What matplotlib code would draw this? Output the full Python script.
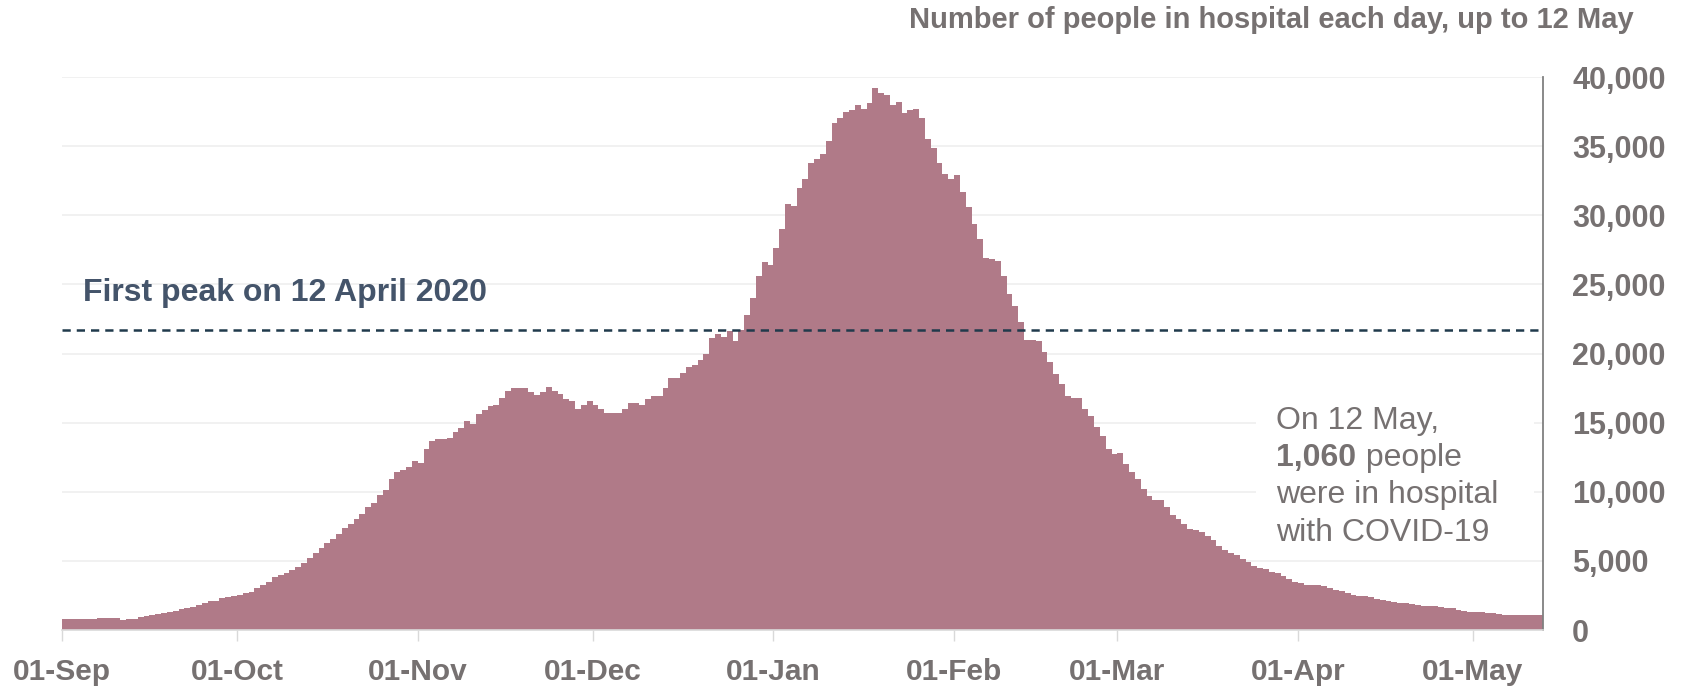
import numpy as np
import pandas as pd
import matplotlib
matplotlib.use("Agg")
import matplotlib.pyplot as plt
from matplotlib.patches import Rectangle


START_DATE = "2020-09-01"
END_DATE = "2021-05-12"

# people in hospital with COVID-19, thousands, one value per day
PATIENTS_K = [
    0.82, 0.80, 0.80, 0.79, 0.80, 0.81, 0.88, 0.89, 0.89, 0.88,
    0.72, 0.76, 0.80, 0.97, 1.02, 1.09, 1.16, 1.23, 1.30, 1.40,
    1.52, 1.59, 1.69, 1.81, 1.98, 2.10, 2.13, 2.29, 2.37, 2.46,
    2.54, 2.66, 2.78, 3.02, 3.26, 3.50, 3.86, 3.99, 4.15, 4.35,
    4.59, 4.88, 5.19, 5.56, 5.92, 6.28, 6.57, 6.96, 7.37, 7.70,
    8.00, 8.40, 8.90, 9.20, 9.80, 10.1, 10.9, 11.4, 11.6, 11.8,
    12.2, 12.1, 13.1, 13.7, 13.8, 13.8, 13.9, 14.3, 14.6, 15.1,
    14.9, 15.6, 15.9, 16.2, 16.3, 16.8, 17.3, 17.5, 17.5, 17.5,
    17.2, 17.0, 17.2, 17.6, 17.3, 17.1, 16.7, 16.6, 16.0, 16.3,
    16.6, 16.3, 16.0, 15.7, 15.7, 15.7, 16.0, 16.4, 16.4, 16.3,
    16.7, 16.9, 16.9, 17.5, 18.2, 18.2, 18.6, 19.0, 19.2, 19.5,
    20.0, 21.1, 21.4, 21.2, 21.6, 20.9, 21.7, 22.8, 24.0, 25.6,
    26.6, 26.4, 27.6, 29.0, 30.8, 30.7, 32.0, 32.6, 33.8, 34.1,
    34.4, 35.4, 36.7, 37.0, 37.45, 37.6, 38.0, 37.7, 38.1, 39.2,
    38.86, 38.7, 38.0, 38.2, 37.4, 37.6, 37.7, 37.0, 35.5, 34.9,
    33.8, 33.0, 32.6, 32.9, 31.7, 30.6, 29.4, 28.3, 26.9, 26.8,
    26.7, 25.6, 24.3, 23.4, 22.3, 21.0, 21.0, 20.9, 20.1, 19.4,
    18.5, 17.8, 16.9, 16.8, 16.8, 16.0, 15.5, 14.7, 14.0, 13.1,
    12.7, 12.8, 12.0, 11.4, 10.9, 10.2, 9.7, 9.4, 9.4, 8.9,
    8.3, 8.0, 7.7, 7.3, 7.2, 7.1, 6.8, 6.5, 6.1, 5.8,
    5.55, 5.4, 5.1, 4.9, 4.6, 4.5, 4.4, 4.2, 4.15, 3.9,
    3.7, 3.46, 3.37, 3.22, 3.22, 3.29, 3.17, 3.02, 2.88, 2.80,
    2.68, 2.56, 2.49, 2.44, 2.37, 2.27, 2.15, 2.07, 2.00, 1.95,
    1.95, 1.85, 1.80, 1.76, 1.71, 1.71, 1.63, 1.59, 1.56, 1.46,
    1.37, 1.27, 1.27, 1.27, 1.22, 1.22, 1.17, 1.12, 1.12, 1.10,
    1.10, 1.07, 1.06, 1.06,
]

FIRST_PEAK = 21683
Y_TICKS = [0, 5000, 10000, 15000, 20000, 25000, 30000, 35000, 40000]

TITLE = "Number of people in hospital each day, up to 12 May"
PEAK_LABEL = "First peak on 12 April 2020"
NOTE_LINES = ["On 12 May,", "1,060", " people", "were in hospital", "with COVID-19"]

BAR_COLOR = "#b07a88"
GREY_TEXT = "#767171"
PEAK_TEXT = "#44546a"
PEAK_LINE = "#203a4c"
FONT = "Liberation Sans"


def main():
    dates = pd.date_range(START_DATE, END_DATE, freq="D")
    values = np.array(PATIENTS_K) * 1000
    assert len(values) == len(dates)

    plt.rcParams["font.family"] = [FONT, "DejaVu Sans"]

    fig = plt.figure(figsize=(16.9, 6.87), dpi=100)
    ax = fig.add_axes([62 / 1690, 57 / 687, 1481 / 1690, 553 / 687])

    edges = np.arange(len(values) + 1)
    ax.stairs(values, edges, fill=True, color=BAR_COLOR, linewidth=0, zorder=2)

    ax.axhline(FIRST_PEAK, color=PEAK_LINE, linewidth=1.8,
               linestyle=(0, (3.3, 2.4)), zorder=3)

    ax.set_xlim(0, len(values))
    ax.set_ylim(0, 40000)

    # month starts
    month_idx = [i for i, d in enumerate(dates) if d.day == 1]
    ax.set_xticks(month_idx)
    ax.set_xticklabels([dates[i].strftime("%d-%b") for i in month_idx],
                       fontsize=21.5, fontweight="bold", color=GREY_TEXT)
    ax.tick_params(axis="x", length=8, width=1, color="#d9d9d9", pad=12)

    ax.set_yticks(Y_TICKS)
    ax.set_yticklabels([f"{v:,}" for v in Y_TICKS],
                       fontsize=22, fontweight="bold", color=GREY_TEXT)
    ax.yaxis.tick_right()
    ax.tick_params(axis="y", length=0, pad=21)

    ax.set_axisbelow(True)
    ax.grid(axis="y", color="#efefef", linewidth=1.2, zorder=0.5)

    for side in ["top", "left"]:
        ax.spines[side].set_visible(False)
    ax.spines["right"].set_color("#808080")
    ax.spines["right"].set_linewidth(1.3)
    ax.spines["bottom"].set_color("#d9d9d9")
    ax.spines["bottom"].set_linewidth(1.2)

    ax.text(0.0142, 0.595, PEAK_LABEL, transform=ax.transAxes,
            fontsize=23, fontweight="bold", color=PEAK_TEXT, va="baseline")

    # white patch behind the note so gridlines stop there
    ax.add_patch(Rectangle((0.806, 0.15), 0.188, 0.27, transform=ax.transAxes,
                           facecolor="white", edgecolor="none", zorder=1.5))

    note_x = 0.820
    kw = dict(transform=ax.transAxes, fontsize=23, color=GREY_TEXT, va="baseline", zorder=4)
    ax.text(note_x, 0.364, NOTE_LINES[0], **kw)
    bold = ax.text(note_x, 0.297, NOTE_LINES[1], fontweight="bold", **kw)
    ax.annotate(NOTE_LINES[2], xy=(1, 0), xycoords=bold, va="bottom", ha="left",
                fontsize=23, color=GREY_TEXT, zorder=4)
    ax.text(note_x, 0.229, NOTE_LINES[3], **kw)
    ax.text(note_x, 0.161, NOTE_LINES[4], **kw)

    fig.text(1634 / 1690, 1 - 28 / 687, TITLE, ha="right", va="baseline",
             fontsize=21, fontweight="bold", color=GREY_TEXT)

    fig.savefig("out.png", dpi=100)


if __name__ == "__main__":
    main()
